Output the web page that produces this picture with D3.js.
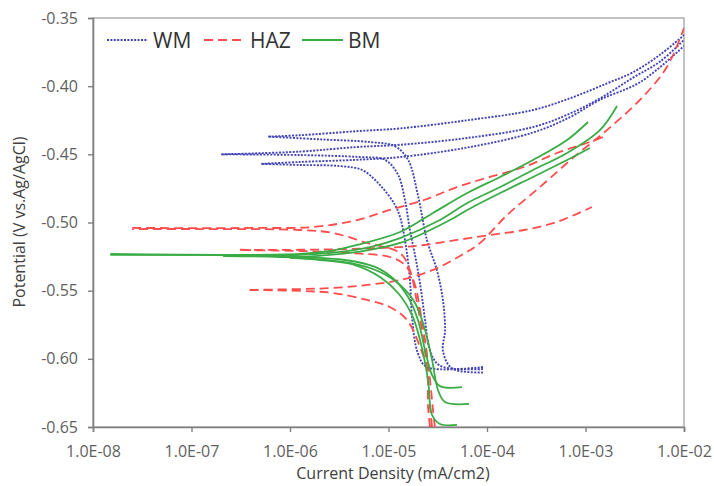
<!DOCTYPE html>
<html><head><meta charset="utf-8">
<script src="https://cdn.jsdelivr.net/npm/d3@7"></script>
<style>
body{margin:0;background:#fff;}
svg{display:block;font-family:"Open Sans",sans-serif;}
</style></head><body>
<svg id="chart" width="714" height="486"></svg>
<script>
// ---- tick values / labels ----
const xTicks = [1e-8, 1e-7, 1e-6, 1e-5, 1e-4, 1e-3, 1e-2];
const xTickLabels = ["1.0E-08", "1.0E-07", "1.0E-06", "1.0E-05", "1.0E-04", "1.0E-03", "1.0E-02"];
const yTicks = [-0.65, -0.60, -0.55, -0.50, -0.45, -0.40, -0.35];
const yTickLabels = ["-0.65", "-0.60", "-0.55", "-0.50", "-0.45", "-0.40", "-0.35"];
const seriesNames = ["WM", "HAZ", "BM"];

// ---- data: [current density (mA/cm2), potential (V)] ----
// WM
const wm1Cathodic = [[9.1e-5,-0.610],[4.4e-5,-0.607],[3.57e-5,-0.594],[3.75e-5,-0.579],[3.57e-5,-0.557],[3.10e-5,-0.535],[2.46e-5,-0.513],[1.99e-5,-0.480],[1.58e-5,-0.454],[1.16e-5,-0.444],[6.5e-6,-0.441],[2.0e-6,-0.439],[6.0e-7,-0.437]];
const wm1Anodic = [[6.0e-7,-0.437],[1.26e-6,-0.436],[4.8e-6,-0.433],[1.31e-5,-0.431],[6.3e-5,-0.425],[2.93e-4,-0.4175],[7.5e-4,-0.408],[1.65e-3,-0.398],[3.0e-3,-0.390],[5.7e-3,-0.377],[1.0e-2,-0.3625]];
const wm2Cathodic = [[9.1e-5,-0.6075],[3.33e-5,-0.605],[2.64e-5,-0.594],[2.35e-5,-0.5715],[2.14e-5,-0.5495],[1.90e-5,-0.5275],[1.65e-5,-0.5055],[1.47e-5,-0.4835],[1.25e-5,-0.465],[9.2e-6,-0.454],[5.1e-6,-0.452],[1.26e-6,-0.4505],[2.0e-7,-0.450]];
const wm2Anodic = [[2.0e-7,-0.450],[1.26e-6,-0.448],[4.8e-6,-0.4446],[1.31e-5,-0.443],[6.3e-5,-0.438],[2.93e-4,-0.430],[6.5e-4,-0.421],[1.40e-3,-0.409],[3.0e-3,-0.394],[5.7e-3,-0.382],[1.0e-2,-0.366]];
const wm3Cathodic = [[9.1e-5,-0.606],[2.46e-5,-0.606],[1.99e-5,-0.596],[1.73e-5,-0.569],[1.65e-5,-0.542],[1.47e-5,-0.513],[1.31e-5,-0.496],[1.16e-5,-0.487],[8.2e-6,-0.4725],[5.4e-6,-0.4615],[3.2e-6,-0.4586],[1.26e-6,-0.4578],[5.1e-7,-0.457]];
const wm3Anodic = [[5.1e-7,-0.457],[1.26e-6,-0.4556],[4.8e-6,-0.454],[1.31e-5,-0.452],[6.3e-5,-0.445],[2.93e-4,-0.434],[7.0e-4,-0.4226],[1.40e-3,-0.410],[3.6e-3,-0.397],[1.0e-2,-0.3705]];
// HAZ
const haz1Cathodic = [[2.77e-5,-0.650],[2.64e-5,-0.6353],[2.46e-5,-0.6082],[2.24e-5,-0.584],[1.95e-5,-0.559],[1.65e-5,-0.535],[1.31e-5,-0.5224],[6.05e-6,-0.515],[2.74e-6,-0.5077],[1.26e-6,-0.5055],[1.22e-7,-0.5048],[2.5e-8,-0.5048]];
const haz1Anodic = [[2.5e-8,-0.504],[3.9e-7,-0.504],[1.71e-6,-0.5033],[4.8e-6,-0.4982],[1.03e-5,-0.4908],[2.29e-5,-0.4835],[4.96e-5,-0.474],[1.07e-4,-0.4666],[2.38e-4,-0.4593],[5.14e-4,-0.449],[1.03e-3,-0.4417],[1.51e-3,-0.4373]];
const haz2Cathodic = [[2.96e-5,-0.650],[2.83e-5,-0.6375],[2.64e-5,-0.6155],[2.35e-5,-0.5862],[2.09e-5,-0.5642],[1.86e-5,-0.5458],[1.47e-5,-0.5312],[1.03e-5,-0.5253],[4.06e-6,-0.5224],[1.26e-6,-0.5209],[3.1e-7,-0.5202]];
const haz2Anodic = [[3.1e-7,-0.520],[1.26e-6,-0.520],[4.06e-6,-0.5194],[1.31e-5,-0.518],[2.29e-5,-0.5165],[4.96e-5,-0.5128],[1.07e-4,-0.5092],[2.38e-4,-0.5055],[5.14e-4,-0.4996],[1.16e-3,-0.4886]];
const haz3Cathodic = [[2.64e-5,-0.650],[2.52e-5,-0.6353],[2.46e-5,-0.6082],[2.09e-5,-0.5913],[1.54e-5,-0.5715],[1.03e-5,-0.562],[6.05e-6,-0.5568],[2.74e-6,-0.5517],[1.26e-6,-0.5502],[3.9e-7,-0.5495]];
const haz3Anodic = [[3.9e-7,-0.5495],[1.26e-6,-0.5488],[2.74e-6,-0.548],[6.05e-6,-0.5458],[1.31e-5,-0.5422],[2.83e-5,-0.5348],[5.32e-5,-0.5246],[8.5e-5,-0.515],[1.6e-4,-0.4945],[3.45e-4,-0.474],[7.63e-4,-0.452],[1.65e-3,-0.4322],[3.57e-3,-0.4101],[6.7e-3,-0.386],[1.0e-2,-0.3573]];
// BM
const bm1Cathodic = [[5.57e-5,-0.6207],[3.33e-5,-0.620],[2.77e-5,-0.6119],[2.35e-5,-0.5935],[1.99e-5,-0.5715],[1.58e-5,-0.5547],[1.16e-5,-0.5422],[7.3e-6,-0.5326],[3.61e-6,-0.5275],[1.26e-6,-0.5253],[1.22e-7,-0.5238],[1.5e-8,-0.5238]];
const bm1Anodic = [[1.5e-8,-0.5231],[1.26e-6,-0.5231],[2.55e-6,-0.5209],[4.8e-6,-0.5165],[1.31e-5,-0.507],[2.83e-5,-0.493],[6.3e-5,-0.4784],[1.36e-4,-0.4666],[2.93e-4,-0.4542],[6.5e-4,-0.4395],[1.06e-3,-0.4263]];
const bm2Cathodic = [[6.56e-5,-0.6331],[3.75e-5,-0.6317],[3.18e-5,-0.6229],[2.77e-5,-0.6009],[2.35e-5,-0.5789],[1.86e-5,-0.559],[1.31e-5,-0.5458],[8.2e-6,-0.5363],[4.06e-6,-0.5297],[1.26e-6,-0.526],[2.1e-7,-0.5246]];
const bm2Anodic = [[2.1e-7,-0.5246],[1.26e-6,-0.5238],[3.22e-6,-0.5216],[6.5e-6,-0.518],[1.31e-5,-0.5114],[3.33e-5,-0.4982],[6.3e-5,-0.4857],[1.36e-4,-0.474],[2.93e-4,-0.4615],[6.5e-4,-0.449],[1.40e-3,-0.4322],[2.09e-3,-0.4145]];
const bm3Cathodic = [[4.96e-5,-0.6485],[3.33e-5,-0.6478],[2.77e-5,-0.6412],[2.52e-5,-0.6155],[2.09e-5,-0.5862],[1.73e-5,-0.5678],[1.25e-5,-0.5517],[8.2e-6,-0.540],[4.57e-6,-0.5312],[2.02e-6,-0.5275],[1.0e-6,-0.526]];
const bm3Anodic = [[1.0e-6,-0.526],[2.55e-6,-0.5238],[4.8e-6,-0.5216],[1.31e-5,-0.515],[4.2e-5,-0.4982],[6.3e-5,-0.4908],[1.36e-4,-0.4784],[2.93e-4,-0.4666],[6.5e-4,-0.4542],[1.11e-3,-0.4454]];

const groups = [
  {name: "WM", curves: [wm1Cathodic, wm1Anodic, wm2Cathodic, wm2Anodic, wm3Cathodic, wm3Anodic]},
  {name: "HAZ", curves: [haz1Cathodic, haz1Anodic, haz2Cathodic, haz2Anodic, haz3Cathodic, haz3Anodic]},
  {name: "BM", curves: [bm1Cathodic, bm1Anodic, bm2Cathodic, bm2Anodic, bm3Cathodic, bm3Anodic]}
];
const styles = {
  WM: {stroke: "#4343b8", width: 1.9, dash: "2 1.4"},
  HAZ: {stroke: "#ff4c4c", width: 1.8, dash: "9 5"},
  BM: {stroke: "#3aac46", width: 1.8, dash: null}
};

// ---- layout ----
const W = 714, H = 486;
const m = {left: 93, right: 30, top: 18, bottom: 59};
const svg = d3.select("#chart");
const x = d3.scaleLog().domain([1e-8, 1e-2]).range([m.left, W - m.right]);
const y = d3.scaleLinear().domain([-0.65, -0.35]).range([H - m.bottom, m.top]);

svg.append("defs").append("clipPath").attr("id", "clip")
  .append("rect").attr("x", m.left).attr("y", m.top)
  .attr("width", W - m.left - m.right).attr("height", H - m.top - m.bottom);

// frame (top / right)
svg.append("rect").attr("x", m.left).attr("y", m.top)
  .attr("width", W - m.left - m.right).attr("height", H - m.top - m.bottom)
  .attr("fill", "none").attr("stroke", "#9a9a9a").attr("stroke-width", 1.2);

// axes
const xAxis = d3.axisBottom(x).tickValues(xTicks).tickSize(5).tickPadding(14)
  .tickFormat((d, i) => xTickLabels[i]);
const yAxis = d3.axisLeft(y).tickValues(yTicks).tickSize(5).tickPadding(10)
  .tickFormat((d, i) => yTickLabels[i]);

const gx = svg.append("g").attr("transform", `translate(0,${H - m.bottom})`).call(xAxis);
const gy = svg.append("g").attr("transform", `translate(${m.left},0)`).call(yAxis);
[gx, gy].forEach(g => {
  g.select(".domain").attr("stroke", "#808080").attr("stroke-width", 1.6);
  g.selectAll(".tick line").attr("stroke", "#808080").attr("stroke-width", 1.4);
  g.selectAll(".tick text").attr("fill", "#5f5f5f").style("font-size", "16px")
    .style("font-family", "'Open Sans', sans-serif");
});

// curves
const line = d3.line().x(d => x(d[0])).y(d => y(d[1])).curve(d3.curveCatmullRom.alpha(0.5));
const plot = svg.append("g").attr("clip-path", "url(#clip)");
groups.forEach(g => {
  const s = styles[g.name];
  g.curves.forEach(c => {
    plot.append("path").datum(c).attr("d", line)
      .attr("fill", "none").attr("stroke", s.stroke).attr("stroke-width", s.width)
      .attr("stroke-dasharray", s.dash).attr("stroke-linecap", "butt");
  });
});

// legend
const legendX = [107, 204, 302];
seriesNames.forEach((n, i) => {
  const s = styles[n];
  svg.append("line").attr("x1", legendX[i]).attr("x2", legendX[i] + 41)
    .attr("y1", 40).attr("y2", 40)
    .attr("stroke", s.stroke).attr("stroke-width", s.width).attr("stroke-dasharray", s.dash);
  svg.append("text").attr("x", legendX[i] + 46).attr("y", 48)
    .attr("fill", "#333").style("font-size", "21px").text(n);
});

// axis titles
svg.append("text").attr("x", 393).attr("y", 479).attr("text-anchor", "middle")
  .attr("fill", "#404040").style("font-size", "16px").text("Current Density (mA/cm2)");
svg.append("text").attr("transform", "translate(25,222) rotate(-90)").attr("text-anchor", "middle")
  .attr("fill", "#404040").style("font-size", "16px").text("Potential (V vs.Ag/AgCl)");
</script>
</body></html>
